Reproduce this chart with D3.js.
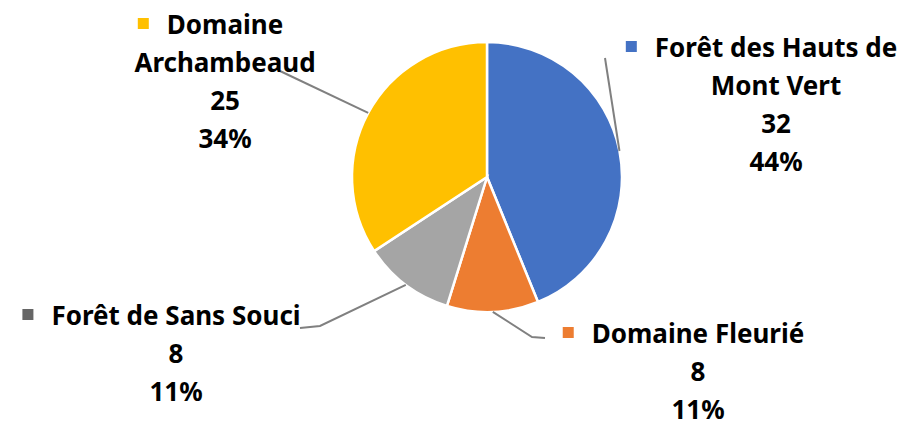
<!DOCTYPE html>
<html>
<head>
<meta charset="utf-8">
<script src="https://cdn.jsdelivr.net/npm/d3@7"></script>
<style>
  html, body { margin: 0; padding: 0; background: #fff; }
  svg { display: block; }
  text { font-family: "Noto Sans", Lato, sans-serif; font-weight: 700; }
</style>
</head>
<body>
<svg id="chart" width="907" height="427"></svg>
<script>
// ---- Data ----
const categories = ["Forêt des Hauts de Mont Vert", "Domaine Fleurié", "Forêt de Sans Souci", "Domaine Archambeaud"];
const values = [32, 8, 8, 25];
const colors = ["#4472C4", "#ED7D31", "#A5A5A5", "#FFC000"];
const markerColors = ["#4472C4", "#ED7D31", "#666666", "#FFC000"];

// ---- Layout (positions only) ----
const W = 907, H = 427;
const cx = 487, cy = 177, R = 135;
const fontSize = 26, lineH = 38;
const labelLayout = [
  { x: 776, y: 57,  wrap: 262, elbow: [[605, 58]] },
  { x: 698, y: 343, wrap: 300, elbow: [[532, 337], [545, 338]] },
  { x: 176, y: 325, wrap: 300, elbow: [[320, 326], [300, 328]] },
  { x: 225, y: 34,  wrap: 200, elbow: [[280, 71]] }
];

const svg = d3.select("#chart");
const total = d3.sum(values);
const pct = d3.format(".0%");

const pie = d3.pie().sort(null).value(d => d)(values);
const arc = d3.arc().innerRadius(0).outerRadius(R);

const g = svg.append("g").attr("transform", `translate(${cx},${cy})`);
g.selectAll("path.slice").data(pie).join("path")
  .attr("class", "slice")
  .attr("d", arc)
  .attr("fill", (d, i) => colors[i])
  .attr("stroke", "#fff")
  .attr("stroke-width", 2.5);

// leader lines
pie.forEach((d, i) => {
  const a = (d.startAngle + d.endAngle) / 2;
  const p0 = [cx + R * Math.sin(a), cy - R * Math.cos(a)];
  const pts = [p0].concat(labelLayout[i].elbow);
  svg.append("path")
    .attr("d", d3.line()(pts))
    .attr("fill", "none")
    .attr("stroke", "#808080")
    .attr("stroke-width", 2);
});

// labels
function wrapWords(text, maxW) {
  const tmp = svg.append("text").attr("font-size", fontSize);
  const words = text.split(" ");
  const lines = [];
  let cur = "";
  words.forEach(w => {
    const test = cur ? cur + " " + w : w;
    tmp.text(test);
    if (tmp.node().getComputedTextLength() > maxW && cur) { lines.push(cur); cur = w; }
    else cur = test;
  });
  if (cur) lines.push(cur);
  tmp.remove();
  return lines;
}

categories.forEach((name, i) => {
  const L = labelLayout[i];
  const lines = wrapWords(name, L.wrap).concat([String(values[i]), pct(values[i] / total)]);
  const t = svg.append("text")
    .attr("text-anchor", "middle")
    .attr("font-size", fontSize)
    .attr("fill", "#000");
  let maxW = 0;
  lines.forEach((ln, k) => {
    const ts = t.append("tspan").attr("x", L.x).attr("y", L.y + k * lineH).text(ln);
    if (k === 0) maxW = ts.node().getComputedTextLength();
  });
  const left = L.x - maxW / 2;
  svg.append("rect")
    .attr("x", left - 29).attr("y", L.y - 16)
    .attr("width", 11).attr("height", 11)
    .attr("fill", markerColors[i]);
});
</script>
</body>
</html>
